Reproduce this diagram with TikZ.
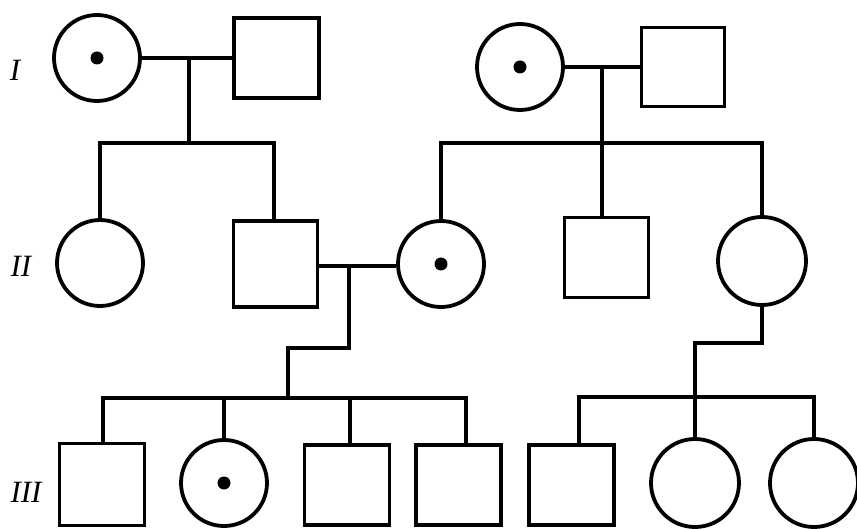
\documentclass[tikz,border=0pt]{standalone}
\usepackage{fontspec}
\setmainfont{Liberation Serif}
\begin{document}
\begin{tikzpicture}[x=1pt,y=-1pt,
  line width=3.8pt,
  female/.style={draw,circle,minimum size=86pt,inner sep=0pt},
  male/.style={draw,rectangle,minimum width=85pt,minimum height=82pt,inner sep=0pt},
  carrier/.style={female,label={[fill=black,circle,inner sep=0pt,minimum size=13pt]center:}},
  gen/.style={font=\fontsize{31}{31}\selectfont\itshape,inner sep=0pt}]
\useasboundingbox (0,0) rectangle (857,529);
% generation labels
\node[gen] (gI) at (15,70) {I};
\node[gen] (gII) at (21,266) {II};
\node[gen] (gIII) at (26,492) {III};
% generation I
\node[carrier] (I1) at (97,58) {};
\node[male,minimum height=80pt] (I2) at (276.5,58) {};
\node[carrier] (I3) at (520,67) {};
\node[male,minimum width=83pt,minimum height=79pt] (I4) at (683,67) {};
% generation II
\node[female] (II1) at (100,263) {};
\node[male,minimum width=84pt,minimum height=86pt] (II2) at (275.5,264) {};
\node[carrier] (II3) at (441,264) {};
\node[male,minimum width=84pt,minimum height=80pt] (II4) at (606.5,257.5) {};
\node[female,minimum size=88pt] (II5) at (762,261) {};
% generation III
\node[male] (III1) at (102,484.5) {};
\node[carrier] (III2) at (224,483) {};
\node[male,minimum height=80pt] (III3) at (347,485) {};
\node[male,minimum height=80pt] (III4) at (458.5,485) {};
\node[male,minimum height=80pt] (III5) at (571.5,485) {};
\node[female,minimum size=88pt] (III6) at (695,483) {};
\node[female,minimum size=88pt] (III7) at (814,483) {};
% connection points
\coordinate (m1) at (189,58);
\coordinate (s1) at (189,143);
\coordinate (a1) at (100,143);
\coordinate (b1) at (274,143);
\coordinate (m2) at (602,67);
\coordinate (s2) at (602,143);
\coordinate (a2) at (441,143);
\coordinate (b2) at (762,143);
\coordinate (m3) at (349,266);
\coordinate (k3) at (349,348);
\coordinate (j3) at (288,348);
\coordinate (s3) at (288,398);
\coordinate (a3) at (103,398);
\coordinate (c3) at (224,398);
\coordinate (d3) at (350,398);
\coordinate (b3) at (466,398);
\coordinate (k4) at (762,343);
\coordinate (j4) at (695,343);
\coordinate (s4) at (695,397);
\coordinate (a4) at (579,397);
\coordinate (b4) at (814,397);
% family 1
\draw (I1.east) -- (I2.west);
\draw (m1) -- (s1);
\draw[line cap=rect] (a1) -- (b1);
\draw (a1) -- (II1.north);
\draw (b1) -- (b1 |- II2.north);
% family 2
\draw (I3.east) -- (I4.west);
\draw (m2) -- (s2);
\draw[line cap=rect] (a2) -- (b2);
\draw (a2) -- (II3.north);
\draw (s2) -- (s2 |- II4.north);
\draw (b2) -- (II5.north);
% family 3
\draw (II2.east |- m3) -- (II3.west |- m3);
\draw (m3) -- (k3) -- (j3) -- (s3);
\draw[line cap=rect] (a3) -- (b3);
\draw (a3) -- (a3 |- III1.north);
\draw (c3) -- (III2.north);
\draw (d3) -- (d3 |- III3.north);
\draw (b3) -- (b3 |- III4.north);
% family 4
\draw (II5.south) -- (k4) -- (j4) -- (s4);
\draw[line cap=rect] (a4) -- (b4);
\draw (a4) -- (a4 |- III5.north);
\draw (s4) -- (III6.north);
\draw (b4) -- (III7.north);
\end{tikzpicture}
\end{document}
